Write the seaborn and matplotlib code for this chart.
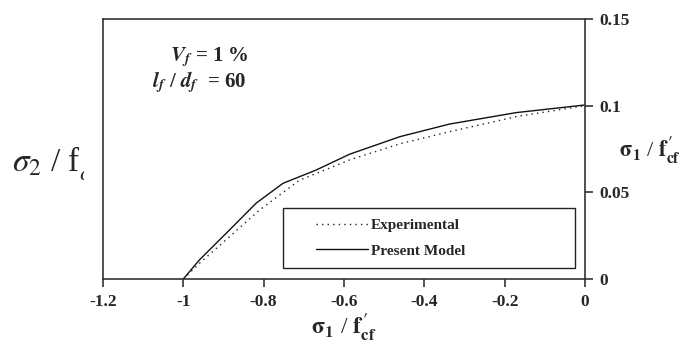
import matplotlib
matplotlib.use("Agg")
import matplotlib.pyplot as plt
import seaborn as sns
import pandas as pd
from matplotlib.patches import Rectangle
from matplotlib.lines import Line2D

# Data
exp_x = [-1.0, -0.96, -0.885, -0.81, -0.711, -0.586, -0.461, -0.337, -0.171, 0.0]
exp_y = [0.0, 0.009, 0.0244, 0.0398, 0.057, 0.0687, 0.078, 0.085, 0.0937, 0.1]
model_x = [-1.0, -0.96, -0.885, -0.819, -0.752, -0.669, -0.586, -0.461, -0.337, -0.171, 0.0]
model_y = [0.0, 0.011, 0.0283, 0.0437, 0.0552, 0.0629, 0.072, 0.0821, 0.0894, 0.096, 0.1004]
x_ticks = [-1.2, -1.0, -0.8, -0.6, -0.4, -0.2, 0.0]
x_tick_labels = ["-1.2", "-1", "-0.8", "-0.6", "-0.4", "-0.2", "0"]
y_ticks = [0, 0.05, 0.1, 0.15]
y_tick_labels = ["0", "0.05", "0.1", "0.15"]

df = pd.concat([
    pd.DataFrame({"x": exp_x, "y": exp_y, "series": "Experimental"}),
    pd.DataFrame({"x": model_x, "y": model_y, "series": "Present Model"}),
], ignore_index=True)

sns.set_style("white")
plt.rcParams["font.family"] = ["Liberation Serif", "DejaVu Serif"]
plt.rcParams["mathtext.fontset"] = "stix"

fig = plt.figure(figsize=(6.92, 3.47), dpi=100)
ax = fig.add_axes([103 / 692, 68 / 347, 482 / 692, 260 / 347])

sns.lineplot(data=df, x="x", y="y", hue="series", style="series",
             palette={"Experimental": "#222222", "Present Model": "#111111"},
             dashes={"Experimental": (1, 3), "Present Model": ""},
             sort=False, estimator=None, linewidth=1.0, ax=ax, legend=False)

ax.set_xlim(-1.2, 0)
ax.set_ylim(0, 0.15)
ax.set_xticks(x_ticks)
ax.set_xticklabels(x_tick_labels, fontsize=12.5, fontweight="bold")
ax.yaxis.tick_right()
ax.set_yticks(y_ticks)
ax.set_yticklabels(y_tick_labels, fontsize=12.5, fontweight="bold")
ax.tick_params(axis="x", direction="out", length=6, width=1.2, color="#333333", pad=5, bottom=True)
ax.tick_params(axis="y", direction="out", length=6, width=1.2, color="#333333", pad=4, right=True, left=False)
for s in ax.spines.values():
    s.set_visible(True)
    s.set_color("#333333")
    s.set_linewidth(1.2)
ax.set_ylabel("")
ax.set_xlabel(r"$\mathbf{\sigma_1}$ / $\mathbf{f^{\,\prime}_{cf}}$", fontsize=17)
ax.xaxis.set_label_coords(0.5, -0.125)
ax.xaxis.label.set_va("top")

# legend: frame drawn as rectangle, entries as frameless legend
ax.add_patch(Rectangle((0.373, 0.042), 0.606, 0.231, transform=ax.transAxes,
                       fill=False, edgecolor="#222222", linewidth=1.0, zorder=5))
handles = [Line2D([], [], color="#222222", lw=1.0, dashes=(1, 3)),
           Line2D([], [], color="#111111", lw=1.0)]
leg = ax.legend(handles, ["Experimental", "Present Model"],
                loc="center left", bbox_to_anchor=(0.441, 0.157),
                prop={"family": "Liberation Serif", "weight": "bold", "size": 11},
                frameon=False, handlelength=3.4, borderpad=0.0, borderaxespad=0.0,
                labelspacing=0.75, handletextpad=0.2)

# annotation
ax.text(0.139, 0.854, r"$\mathbfit{V}_{\mathbfit{f}}$ = 1 %", transform=ax.transAxes,
        fontsize=15, fontweight="bold", ha="left", va="center")
ax.text(0.102, 0.758, r"$\mathbfit{l}_{\mathbfit{f}}$ / $\mathbfit{d}_{\mathbfit{f}}$  = 60",
        transform=ax.transAxes, fontsize=15, fontweight="bold", ha="left", va="center")

# right label
fig.text(619 / 692, 1 - 150 / 347, r"$\mathbf{\sigma_1}$ / $\mathbf{f^{\,\prime}_{cf}}$",
         fontsize=16, ha="left", va="center")

# left label, clipped at the right edge as in the reference
clip_rect = Rectangle((0, 0), 84 / 692, 1, transform=fig.transFigure, visible=False)
fig.add_artist(clip_rect)
t = fig.text(12 / 692, 1 - 162 / 347, r"$\sigma_2$ / f$^{\,\prime}_{c}$", fontsize=24,
             ha="left", va="center")
t.set_clip_path(clip_rect)
t.set_clip_on(True)

fig.savefig("out.png", dpi=100)
